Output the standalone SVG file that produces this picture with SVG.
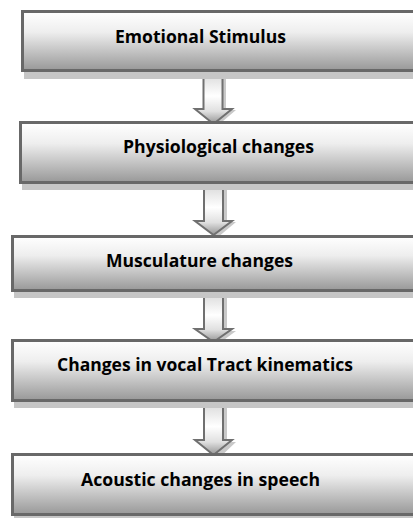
<svg xmlns="http://www.w3.org/2000/svg" width="413" height="518" viewBox="0 0 413 518">
<defs>
<linearGradient id="boxG" x1="0" y1="0" x2="0" y2="1">
<stop offset="0" stop-color="#ffffff"/>
<stop offset="0.35" stop-color="#eeeeee"/>
<stop offset="1" stop-color="#989898"/>
</linearGradient>
<linearGradient id="arrG" x1="0" y1="0" x2="0" y2="1">
<stop offset="0" stop-color="#d9d9d9"/>
<stop offset="0.45" stop-color="#ffffff"/>
<stop offset="0.75" stop-color="#e0e0e0"/>
<stop offset="1" stop-color="#939393"/>
</linearGradient>
</defs>
<style>
.shadow{fill:#c6c6c6}
.box{fill:url(#boxG);stroke:#686868;stroke-width:3}
.arrow{fill:url(#arrG);stroke:#707070;stroke-width:2;stroke-linejoin:miter}
.ashadow{fill:#c9c9c9}
.label{font-family:"Open Sans",Lato,"Liberation Sans",sans-serif;font-weight:bold;font-size:18px;fill:#000;font-variant-ligatures:none}
</style>
<rect width="413" height="518" fill="#ffffff"/>
<g id="connectors">
<path class="ashadow" d="M206,73 H226 V110 H236 L216,127 L197,110 H206 Z"/>
<path class="arrow" d="M203.5,73 H222.5 V109 H232 L213.5,124 L195,109 H203.5 Z"/>
<path class="ashadow" d="M207,185 H227 V222 H236 L217,238 L198,222 H207 Z"/>
<path class="arrow" d="M204,185 H223 V221 H232 L213.5,235 L195,221 H204 Z"/>
<path class="ashadow" d="M207,293 H227 V331 H236 L217,345 L198,331 H207 Z"/>
<path class="arrow" d="M204,293 H223 V329 H232 L213.5,342 L195,329 H204 Z"/>
<path class="ashadow" d="M207,403 H227 V442 H236 L217,460 L198,442 H207 Z"/>
<path class="arrow" d="M204,403 H223 V440 H232 L213.5,455 L195,440 H204 Z"/>
</g>
<g id="node1">
<rect class="shadow" x="24" y="17" width="420" height="62"/>
<rect class="box" x="22.5" y="11.5" width="420" height="59"/>
<text class="label" x="115" y="43" textLength="171" lengthAdjust="spacingAndGlyphs">Emotional Stimulus</text>
</g>
<g id="node2">
<rect class="shadow" x="22" y="128" width="420" height="62"/>
<rect class="box" x="20.5" y="122.5" width="420" height="60"/>
<text class="label" x="123" y="153" textLength="191" lengthAdjust="spacingAndGlyphs">Physiological changes</text>
</g>
<g id="node3">
<rect class="shadow" x="14" y="242" width="420" height="56"/>
<rect class="box" x="12.5" y="236.5" width="420" height="54"/>
<text class="label" x="106" y="267" textLength="187" lengthAdjust="spacingAndGlyphs">Musculature changes</text>
</g>
<g id="node4">
<rect class="shadow" x="14" y="346" width="420" height="62"/>
<rect class="box" x="12.5" y="340.5" width="420" height="60"/>
<text class="label" x="57" y="371" textLength="296" lengthAdjust="spacingAndGlyphs">Changes in vocal Tract kinematics</text>
</g>
<g id="node5">
<rect class="shadow" x="14" y="460" width="420" height="62"/>
<rect class="box" x="12.5" y="454.5" width="420" height="60"/>
<text class="label" x="81" y="486" textLength="239" lengthAdjust="spacingAndGlyphs">Acoustic changes in speech</text>
</g>
</svg>
